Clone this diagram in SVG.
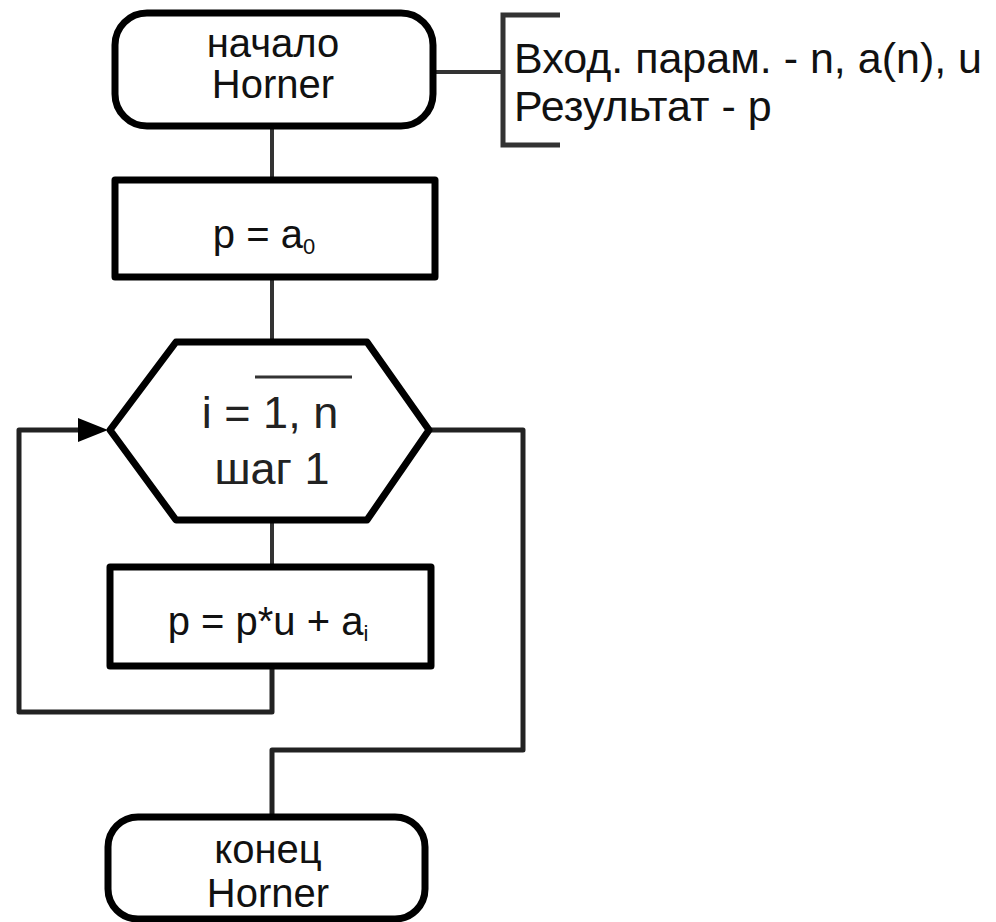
<svg xmlns="http://www.w3.org/2000/svg" width="996" height="922" viewBox="0 0 996 922">
<defs>
<style>
.sh{fill:#fff;stroke:#000;stroke-width:7;stroke-linejoin:round}
.cn{fill:none;stroke:#333;stroke-width:4}
.ln{fill:none;stroke:#222;stroke-width:5;stroke-linejoin:round}
.t{font-family:"Liberation Sans",Arial,sans-serif;font-size:40px;fill:#111;text-anchor:middle}
.th{font-family:"Liberation Sans",Arial,sans-serif;font-size:45px;fill:#222;text-anchor:middle}
.tl{font-family:"Liberation Sans",Arial,sans-serif;font-size:43px;fill:#111}
</style>
</defs>
<rect width="996" height="922" fill="#fff"/>
<g id="connectors">
<line class="cn" x1="272" y1="126" x2="272" y2="180"/>
<line class="cn" x1="272" y1="277" x2="272" y2="342"/>
<line class="cn" x1="272" y1="520" x2="272" y2="567"/>
<polyline class="ln" points="272,666 272,712 19,712 19,430 82,430"/>
<path d="M78,418 L108,430 L78,442 Z" fill="#000"/>
<polyline class="ln" points="429,430 523,430 523,750 272,750 272,817"/>
<line class="cn" x1="433" y1="72" x2="503" y2="72"/>
</g>
<g id="start">
<rect class="sh" x="115" y="13" width="318" height="113" rx="32"/>
<text class="t" x="273" y="57">начало</text>
<text class="t" x="273" y="98">Horner</text>
</g>
<g id="comment">
<polyline fill="none" stroke="#333" stroke-width="5" points="560,15 503,15 503,145 560,145"/>
<text class="tl" x="514" y="73">Вход. парам. - n, a(n), u</text>
<text class="tl" x="514" y="121">Результат - p</text>
</g>
<g id="init">
<rect class="sh" x="115" y="180" width="320" height="97"/>
<text class="t" x="264" y="248">p = a<tspan font-size="22" dy="6">0</tspan></text>
</g>
<g id="loop">
<polygon class="sh" points="110,430 176,342 367,342 429,430 367,520 176,520"/>
<line x1="255" y1="377" x2="352" y2="377" stroke="#333" stroke-width="3"/>
<text class="th" x="270" y="428">i = 1, n</text>
<text class="th" x="272" y="484">шаг 1</text>
</g>
<g id="body">
<rect class="sh" x="110" y="567" width="321" height="99"/>
<text class="t" x="268" y="635" font-size="42">p = p*u + a<tspan font-size="22" dy="6">i</tspan></text>
</g>
<g id="end">
<rect class="sh" x="108" y="817" width="317" height="102" rx="30"/>
<text class="t" x="268" y="863">конец</text>
<text class="t" x="268" y="907">Horner</text>
</g>
</svg>
